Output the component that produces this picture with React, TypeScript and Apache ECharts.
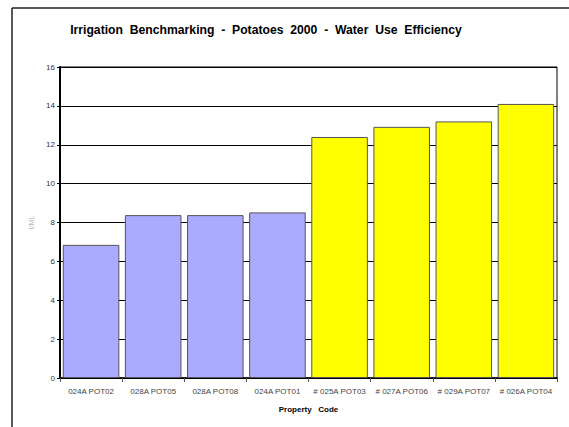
import React, { useEffect, useRef } from "react";
import * as echarts from "echarts";

const categories = [
  "024A POT02",
  "028A POT05",
  "028A POT08",
  "024A POT01",
  "# 025A POT03",
  "# 027A POT06",
  "# 029A POT07",
  "# 026A POT04",
];
const values = [6.85, 8.38, 8.38, 8.52, 12.4, 12.92, 13.2, 14.1];
const groupColors = ["#AAAAFF", "#AAAAFF", "#AAAAFF", "#AAAAFF", "#FFFF00", "#FFFF00", "#FFFF00", "#FFFF00"];
const titleText = "Irrigation  Benchmarking  -  Potatoes  2000  -  Water  Use  Efficiency";
const xName = "Property   Code";
const yName = "t/ML";

export default function App() {
  const ref = useRef<HTMLDivElement>(null);
  useEffect(() => {
    const chart = echarts.init(ref.current!, null, { renderer: "svg" });
    chart.setOption({
      animation: false,
      backgroundColor: "#fff",
      title: {
        text: titleText,
        left: 261,
        top: 19,
        textAlign: "center",
        textStyle: { fontFamily: "Liberation Sans", fontWeight: "bold", fontSize: 12.2, color: "#000" },
      },
      graphic: [
        { type: "line", shape: { x1: 12, y1: 8, x2: 569, y2: 8 }, style: { stroke: "#222", lineWidth: 1.5 } },
        { type: "line", shape: { x1: 12, y1: 8, x2: 12, y2: 427 }, style: { stroke: "#222", lineWidth: 1.5 } },
      ],
      grid: { left: 60, right: 12, top: 67, bottom: 49, show: true, borderColor: "#000", borderWidth: 1 },
      xAxis: {
        type: "category",
        data: categories,
        name: xName,
        nameLocation: "middle",
        nameGap: 27,
        nameTextStyle: { fontFamily: "Liberation Sans", fontWeight: "bold", fontSize: 8, color: "#000" },
        axisLine: { lineStyle: { color: "#000", width: 1.5 } },
        axisTick: { show: true, length: 4, lineStyle: { color: "#555", width: 1 } },
        axisLabel: { fontFamily: "Liberation Sans", fontSize: 8, color: "#444", margin: 9, interval: 0 },
      },
      yAxis: {
        type: "value",
        min: 0,
        max: 16,
        interval: 2,
        name: yName,
        nameLocation: "middle",
        nameGap: 24,
        nameTextStyle: { fontFamily: "Liberation Sans", fontSize: 7, color: "#bbb" },
        axisLine: { show: true, lineStyle: { color: "#000", width: 2 } },
        axisTick: { show: true, length: 3, lineStyle: { color: "#000" } },
        axisLabel: { fontFamily: "Liberation Sans", fontSize: 8, color: "#333", margin: 5 },
        splitLine: { lineStyle: { color: "#000", width: 1 } },
      },
      series: [
        {
          type: "bar",
          barCategoryGap: "9%",
          data: values.map((v, i) => ({
            value: v,
            itemStyle: { color: groupColors[i], borderColor: "#555", borderWidth: 1 },
          })),
        },
      ],
    });
    return () => chart.dispose();
  }, []);
  return (
    <div
      ref={ref}
      style={{ position: "fixed", left: 0, top: 0, width: 569, height: 427 }}
    />
  );
}
